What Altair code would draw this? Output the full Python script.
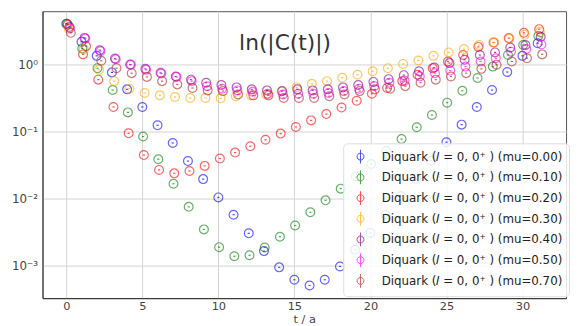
import altair as alt
import pandas as pd

t_vals = list(range(32))
mu_labels = ["0.00", "0.10", "0.20", "0.30", "0.40", "0.50", "0.70"]
x_shift = [0.0, 0.05, 0.10, 0.15, 0.20, 0.25, 0.30]
colors = ["#0000ff", "#008000", "#ff0000", "#ffa500", "#800080", "#ff00ff", "#b22222"]

c_mu000 = [4.1, 2.2, 1.36, 0.77, 0.43, 0.235, 0.125, 0.068, 0.0366, 0.0197, 0.0105, 0.0058,
           0.00306, 0.00166, 0.00095, 0.00062, 0.00051, 0.00062, 0.00098, 0.00174, 0.0031,
           0.0058, 0.011, 0.0199, 0.037, 0.070, 0.128, 0.235, 0.42, 0.78, 1.36, 2.1]
c_mu010 = [4.1, 1.75, 0.89, 0.42, 0.195, 0.085, 0.039, 0.0168, 0.0076, 0.0035, 0.0019, 0.00139,
           0.00144, 0.00188, 0.00272, 0.0040, 0.0063, 0.0095, 0.0142, 0.0215, 0.033, 0.052,
           0.078, 0.117, 0.178, 0.272, 0.41, 0.635, 0.94, 1.40, 1.97, 2.7]
c_mu020 = [3.95, 1.43, 0.60, 0.235, 0.095, 0.045, 0.027, 0.024, 0.026, 0.031, 0.040, 0.049,
           0.061, 0.076, 0.094, 0.118, 0.148, 0.184, 0.23, 0.29, 0.37, 0.45, 0.57, 0.71,
           0.89, 1.12, 1.40, 1.85, 2.15, 2.5, 3.0, 3.4]
c_mu030 = [3.45, 1.7, 0.84, 0.57, 0.44, 0.38, 0.35, 0.33, 0.32, 0.32, 0.316, 0.34, 0.35, 0.36,
           0.40, 0.46, 0.52, 0.57, 0.64, 0.71, 0.80, 0.89, 1.03, 1.16, 1.36, 1.53, 1.72, 1.97,
           2.15, 2.46, 2.8, 3.1]
c_mu040 = [3.66, 2.52, 1.65, 1.24, 1.01, 0.87, 0.76, 0.67, 0.60, 0.54, 0.50, 0.46, 0.43, 0.415,
           0.405, 0.43, 0.415, 0.43, 0.46, 0.50, 0.555, 0.61, 0.70, 0.80, 0.91, 1.06, 1.19,
           1.40, 1.53, 1.81, 1.97, 2.61]
c_mu050 = [3.5, 2.46, 1.6, 1.21, 1.0, 0.84, 0.74, 0.66, 0.57, 0.48, 0.44, 0.415, 0.395, 0.37,
           0.36, 0.37, 0.37, 0.38, 0.405, 0.44, 0.48, 0.54, 0.58, 0.67, 0.75, 0.82, 0.94, 1.12,
           1.25, 1.57, 1.72, 2.01]
c_mu070 = [3.0, 1.9, 1.15, 0.89, 0.75, 0.66, 0.57, 0.51, 0.45, 0.415, 0.405, 0.36, 0.35, 0.35,
           0.32, 0.32, 0.32, 0.34, 0.36, 0.405, 0.43, 0.44, 0.48, 0.54, 0.60, 0.67, 0.75, 0.87,
           1.0, 1.12, 1.25, 1.43]

series = [c_mu000, c_mu010, c_mu020, c_mu030, c_mu040, c_mu050, c_mu070]
labels = [f"Diquark (𝐼 = 0, 0⁺ ) (mu={m})" for m in mu_labels]

rows = []
for i, (lab, vals) in enumerate(zip(labels, series)):
    for t, v in zip(t_vals, vals):
        rows.append({"series": lab, "order": i, "t": t + x_shift[i], "C": v})
df = pd.DataFrame(rows)

FONT = "DejaVu Sans"

x_enc = alt.X("t:Q", scale=alt.Scale(domain=[-1.565, 32.87], nice=False, zero=False),
              axis=alt.Axis(values=[0, 5, 10, 15, 20, 25, 30], title="t / a", tickSize=0,
                            labelPadding=3, titlePadding=1, labelFontSize=11.5, grid=True))
y_enc = alt.Y("C:Q", scale=alt.Scale(type="log", domain=[3.3e-4, 6.3], nice=False),
              axis=alt.Axis(values=[0.001, 0.01, 0.1, 1], tickSize=0, labelPadding=5,
                            labelExpr="['10⁻³','10⁻²','10⁻¹','10⁰'][round(log(datum.value)/LN10)+3]",
                            title=None, grid=True, minExtent=35, maxExtent=35))

legend_symbol = "M0,-1L0,1M0.5,0A0.5,0.5 0 1,1 -0.5,0A0.5,0.5 0 1,1 0.5,0Z"

color_enc = alt.Color("series:N", sort=labels,
                      scale=alt.Scale(domain=labels, range=colors),
                      legend=alt.Legend(title=None, orient="none", legendX=305, legendY=134,
                                        symbolType=legend_symbol, symbolSize=196,
                                        symbolStrokeWidth=1, symbolOpacity=0.7,
                                        symbolFillColor="transparent",
                                        labelFontSize=12, labelFont=FONT, labelColor="#222",
                                        labelLimit=300,
                                        labelOffset=14, rowPadding=2, padding=6,
                                        symbolOffset=4,
                                        fillColor="rgba(255,255,255,0.85)",
                                        strokeColor="#dddddd", cornerRadius=4))

points = alt.Chart(df).mark_point(shape="circle", filled=False, size=80, strokeWidth=1.2,
                                   opacity=0.6).encode(
    x=x_enc, y=y_enc, color=color_enc, order=alt.Order("order:Q")
)

dots = alt.Chart(df).mark_point(shape="M-1,0L1,0", size=5, strokeWidth=1.2, opacity=0.7).encode(
    x="t:Q", y="C:Q",
    color=alt.Color("series:N", scale=alt.Scale(domain=labels, range=colors), legend=None),
    order=alt.Order("order:Q")
)

title_df = pd.DataFrame({"label": ["ln(|C(t)|)"]})
title = alt.Chart(title_df).mark_text(fontSize=22, font=FONT, color="#333333", align="center",
                                      baseline="alphabetic").encode(
    text="label:N", x=alt.value(246), y=alt.value(39)
)

chart = alt.layer(points, dots, title).properties(
    width=531, height=291,
    autosize=alt.AutoSizeParams(type="none"),
    padding={"left": 35, "top": 1, "right": 4, "bottom": 26},
).configure_view(stroke="#555555", strokeWidth=1).configure_axis(
    labelFont=FONT, labelFontSize=12, labelColor="#444444",
    titleFont=FONT, titleFontSize=11.5, titleColor="#444444", titleFontWeight="normal",
    gridColor="#d3d3d3", gridWidth=1, domainColor="#333333", domainWidth=1,
)

chart.save("out.html", embed_options={"renderer": "svg", "actions": False})
